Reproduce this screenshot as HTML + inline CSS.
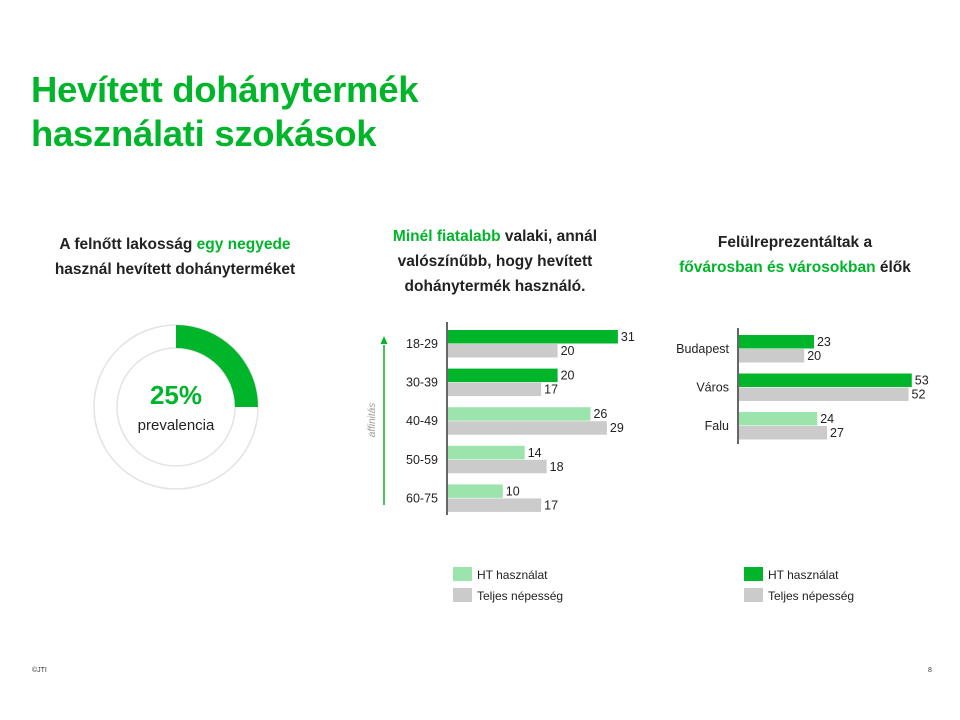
<!DOCTYPE html>
<html><head><meta charset="utf-8"><style>
body{margin:0;background:#fff;font-family:"Liberation Sans",sans-serif;}
#wrap{position:relative;width:960px;height:720px;overflow:hidden;}
.g{color:#00b52a;}
h1{position:absolute;left:31px;top:68px;margin:0;font-size:36.5px;line-height:44px;color:#00b52a;font-weight:bold;letter-spacing:-0.3px;}
.hd{position:absolute;text-align:center;font-weight:bold;font-size:15.5px;line-height:25px;color:#222;}
</style></head><body><div id="wrap">
<h1>Hevített dohánytermék<br>használati szokások</h1>
<div class="hd" style="left:40px;width:270px;top:232px">A felnőtt lakosság <span class="g">egy negyede</span><br>használ hevített dohányterméket</div>
<div class="hd" style="left:360px;width:270px;top:224px"><span class="g">Minél fiatalabb</span> valaki, annál<br>valószínűbb, hogy hevített<br>dohánytermék használó.</div>
<div class="hd" style="left:660px;width:270px;top:230px">Felülreprezentáltak a<br><span class="g">fővárosban és városokban</span> élők</div>
<svg width="960" height="720" style="position:absolute;left:0;top:0" font-family="Liberation Sans, sans-serif" id="svg">
<g>
<circle cx="176" cy="407" r="82" fill="none" stroke="#e3e3e3" stroke-width="1.5"/>
<circle cx="176" cy="407" r="59" fill="none" stroke="#e3e3e3" stroke-width="1.5"/>
<path id="wedge" fill="#00b52a"/>
<text x="176" y="404" text-anchor="middle" font-size="26" font-weight="bold" fill="#00b52a">25%</text>
<text x="176" y="430" text-anchor="middle" font-size="15" fill="#222">prevalencia</text>
</g>
<g>
<line x1="384" y1="345" x2="384" y2="505" stroke="#00b52a" stroke-width="1.5"/>
<path d="M380.5,344 L384,336 L387.5,344 Z" fill="#00b52a"/>
<text transform="translate(375,420) rotate(-90)" text-anchor="middle" font-size="10" font-style="italic" fill="#999">affinitás</text>
</g>
<g id="c1"></g>
<g id="c2"></g>
<g>
<rect x="453" y="567" width="19" height="14" fill="#9be5ac"/><text x="477" y="579" font-size="12" fill="#222">HT használat</text>
<rect x="453" y="588" width="19" height="14" fill="#cbcbcb"/><text x="477" y="600" font-size="12" fill="#222">Teljes népesség</text>
</g>
<g>
<rect x="744" y="567" width="19" height="14" fill="#00b52a"/><text x="768" y="579" font-size="12" fill="#222">HT használat</text>
<rect x="744" y="588" width="19" height="14" fill="#cbcbcb"/><text x="768" y="600" font-size="12" fill="#222">Teljes népesség</text>
</g>
<text x="32" y="672" font-size="7" fill="#333">©JTI</text>
<text x="928" y="672" font-size="7" fill="#333">8</text>
</svg>
</div>
<script>
const prevalence = 25;
const ageCats = ["18-29","30-39","40-49","50-59","60-75"];
const ageHT = [31,20,26,14,10];
const ageTotal = [20,17,29,18,17];
const ageDark = [true,true,false,false,false];
const locCats = ["Budapest","Város","Falu"];
const locHT = [23,53,24];
const locTotal = [20,52,27];
const locDark = [true,true,false];
const NS="http://www.w3.org/2000/svg";
function mk(tag,attrs,parent){const e=document.createElementNS(NS,tag);for(const k in attrs)e.setAttribute(k,attrs[k]);parent.appendChild(e);return e;}
(function(){const cx=176,cy=407,R=82,r=59;const a=prevalence/100*2*Math.PI;
const x1=cx+R*Math.sin(a),y1=cy-R*Math.cos(a),x2=cx+r*Math.sin(a),y2=cy-r*Math.cos(a);const lg=a>Math.PI?1:0;
document.getElementById('wedge').setAttribute('d',`M${cx},${cy-R} A${R},${R} 0 ${lg} 1 ${x1},${y1} L${x2},${y2} A${r},${r} 0 ${lg} 0 ${cx},${cy-r} Z`);})();
function chart(gid,cats,ht,tot,dark,x0,scale,y0,step,axTop,axBot){
const g=document.getElementById(gid);
mk('line',{x1:x0,y1:axTop,x2:x0,y2:axBot,stroke:'#333','stroke-width':1.5},g);
cats.forEach((c,i)=>{const y=y0+i*step;
const b1=mk('rect',{x:x0+1,y:y,width:ht[i]*scale,height:13.5,fill:dark[i]?'#00b52a':'#9be5ac'},g);


const b2=mk('rect',{x:x0+1,y:y+14,width:tot[i]*scale,height:13.5,fill:'#cbcbcb'},g);


const t1=mk('text',{x:x0+4+ht[i]*scale,y:y+11,'font-size':12.5,fill:'#222'},g);t1.textContent=ht[i];


const t2=mk('text',{x:x0+4+tot[i]*scale,y:y+25,'font-size':12.5,fill:'#222'},g);t2.textContent=tot[i];


const l=mk('text',{x:x0-9,y:y+18,'font-size':12.5,fill:'#222','text-anchor':'end'},g);l.textContent=c;


});}
chart('c1',ageCats,ageHT,ageTotal,ageDark,447,5.48,330,38.6,322,515);
chart('c2',locCats,locHT,locTotal,locDark,738,3.26,335,38.5,328,444);
</script>
</body></html>
